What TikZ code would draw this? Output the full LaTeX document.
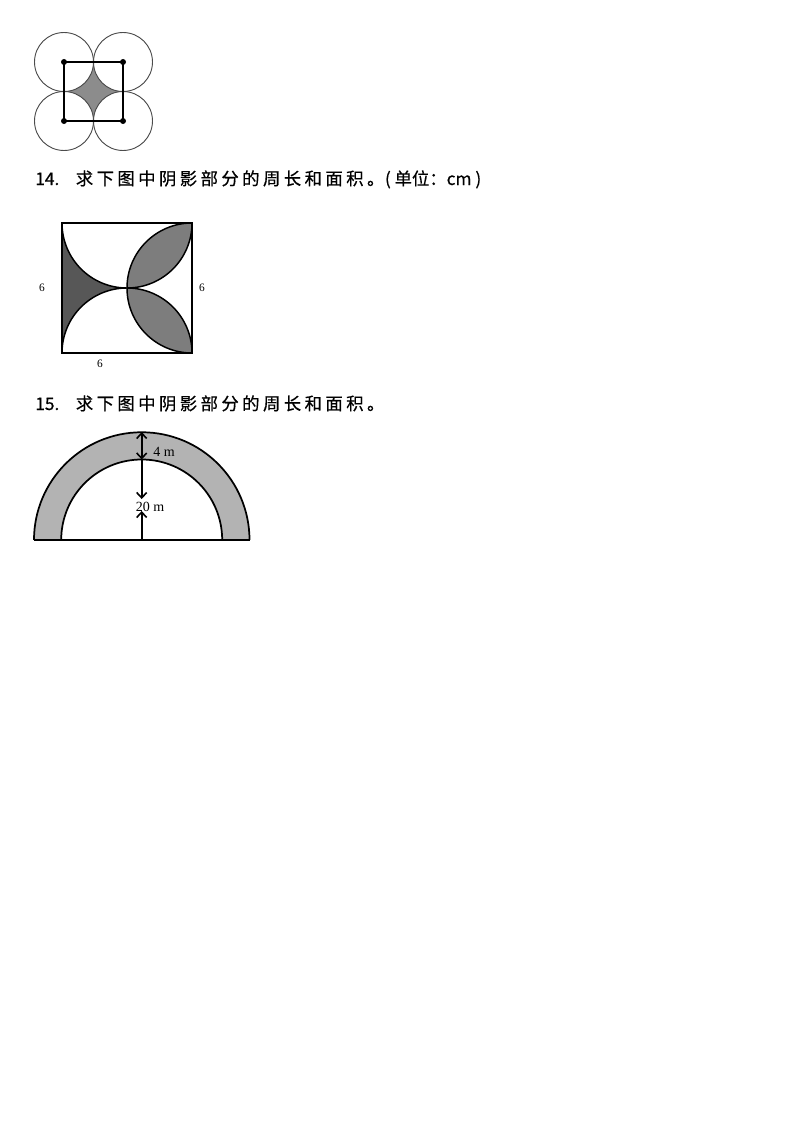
\documentclass[tikz,border=0pt]{standalone}
\usepackage{fontspec}
\usepackage{tikz}
\usetikzlibrary{positioning,arrows.meta}
\newfontfamily\cjk[FakeBold=0.5]{Noto Sans CJK SC}
\newfontfamily\cjkwide[LetterSpace=20,FakeBold=0.5]{Noto Sans CJK SC}
\newfontfamily\figfont{Liberation Serif}
\definecolor{darkshade}{HTML}{575757}
\definecolor{leafshade}{HTML}{7D7D7D}
\definecolor{hatchshade}{HTML}{8C8C8C}
\definecolor{ringshade}{HTML}{B3B3B3}
\tikzset{
  qnum/.style={inner sep=0pt, font=\cjk\fontsize{13}{15}\selectfont},
  qtext/.style={inner sep=0pt, font=\cjkwide\fontsize{13}{15}\selectfont},
  lbl/.style={inner sep=0pt, font=\figfont\fontsize{8.5}{10}\selectfont},
  dimlbl/.style={inner sep=0pt, font=\figfont\fontsize{10.5}{12}\selectfont},
  ring/.style={draw=black!70, line width=0.7pt},
  dot/.style={circle, fill=black, inner sep=0pt, minimum size=4.5pt},
  dimarrow/.style={line width=1.2pt, -{Straight Barb[length=4pt,width=7.5pt]}},
}

\begin{document}
\begin{tikzpicture}[x=0.75pt,y=0.75pt]
    \useasboundingbox[fill=white] (0,0) rectangle (800,-1131);

    % four circles round a square
    \coordinate (cA) at (64,-62);
    \coordinate (cB) at (123,-62);
    \coordinate (cC) at (64,-121);
    \coordinate (cD) at (123,-121);
    \fill[hatchshade] (93.5,-62) arc (180:270:29.5) arc (90:180:29.5)
      arc (0:90:29.5) arc (270:360:29.5) -- cycle;
    \foreach \c in {cA,cB,cC,cD}
      \draw[ring] (\c) circle (29.5);
    \draw[line width=1pt] (cA) -- (cB) -- (cD) -- (cC) -- cycle;
    \foreach \c in {cA,cB,cC,cD}
      \node[dot] at (\c) {};

    % question 14
    \node[qnum, anchor=base west] (num14) at (35,-185) {14.};
    \node[qtext, right=12pt of num14.base east, anchor=base west] (q14)
      {求下图中阴影部分的周长和面积。};
    \node[qnum, right=0pt of q14.base east, anchor=base west] (unit14)
      {( 单位：cm )};

    % square with arcs
    \coordinate (sqNW) at (62,-223);
    \coordinate (sqNE) at (192,-223);
    \coordinate (sqSE) at (192,-353);
    \coordinate (sqSW) at (62,-353);
    \coordinate (sqM) at (127,-288);
    \fill[darkshade] (sqNW) arc (180:270:65) arc (90:180:65) -- cycle;
    \fill[leafshade] (sqM) arc (270:360:65) arc (90:180:65) -- cycle;
    \fill[leafshade] (sqM) arc (90:0:65) arc (270:180:65) -- cycle;
    \draw[line width=1.1pt] (sqNW) arc (180:270:65) arc (90:180:65);
    \draw[line width=1.1pt] (sqM) arc (270:360:65) arc (90:180:65);
    \draw[line width=1.1pt] (sqM) arc (90:0:65) arc (270:180:65);
    \draw[line width=1.6pt] (sqNW) -- (sqNE) -- (sqSE) -- (sqSW) -- cycle;
    \node[lbl] (sideL) at (42,-288) {6};
    \node[lbl] (sideR) at (202,-288) {6};
    \node[lbl] (sideB) at (100,-364) {6};

    % question 15
    \node[qnum, anchor=base west] (num15) at (35,-410) {15.};
    \node[qtext, right=12pt of num15.base east, anchor=base west] (q15)
      {求下图中阴影部分的周长和面积。};

    % half ring
    \coordinate (outL) at (34,-540);
    \coordinate (outR) at (249.5,-540);
    \coordinate (inR) at (222.2,-540);
    \coordinate (base) at (141.7,-540);
    \coordinate (outTop) at (141.7,-432);
    \coordinate (inTop) at (141.7,-459.5);
    \coordinate (downTip) at (141.7,-499);
    \coordinate (upTip) at (141.7,-511);
    \fill[ringshade] (outL) arc (180:0:107.75) -- (inR) arc (0:180:80.5) -- cycle;
    \draw[line width=1.3pt] (outL) arc (180:0:107.75);
    \draw[line width=1.3pt] (inR) arc (0:180:80.5);
    \draw[line width=1.3pt] (outL) -- (outR);
    \draw[dimarrow, {Straight Barb[length=4pt,width=7.5pt]}-{Straight Barb[length=4pt,width=7.5pt]}] (outTop) -- (inTop);
    \draw[dimarrow] (inTop) -- (downTip);
    \draw[dimarrow] (base) -- (upTip);
    \node[dimlbl] (ringW) at (164,-452) {4 m};
    \node[dimlbl] (archH) at (150,-507) {20 m};
\end{tikzpicture}
\end{document}
